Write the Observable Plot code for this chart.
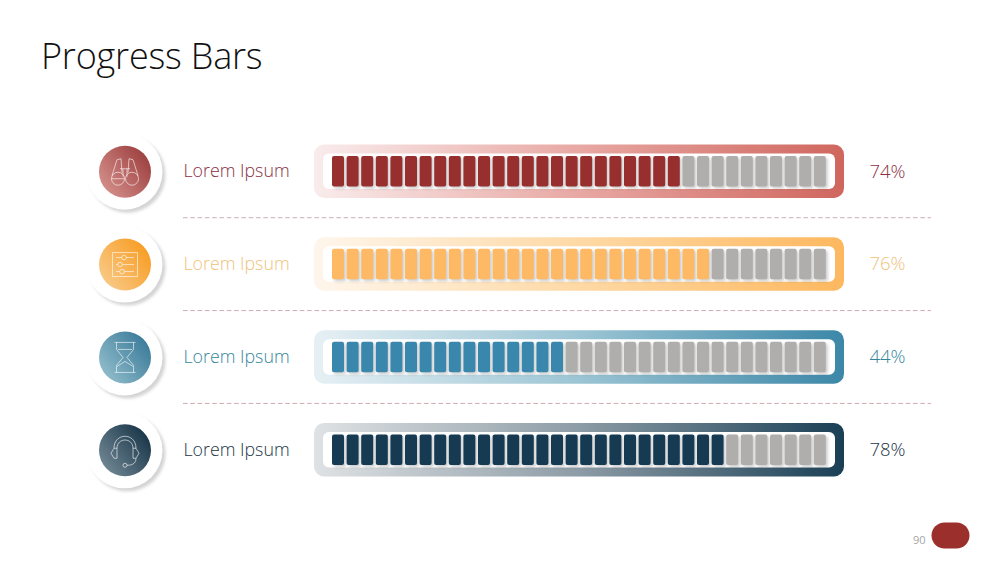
<!DOCTYPE html>
<html>
<head>
<meta charset="utf-8">
<script src="https://cdn.jsdelivr.net/npm/d3@7"></script>
<script src="https://cdn.jsdelivr.net/npm/@observablehq/plot@0.6"></script>
<style>
html,body{margin:0;padding:0;background:#fff;width:1000px;height:563px;overflow:hidden;position:relative}
h1{position:absolute;left:41px;top:31px;margin:0;font:300 36px "Open Sans",sans-serif;color:#111;letter-spacing:-.2px}
#c{position:absolute;left:0;top:0}
svg{display:block}
</style>
</head>
<body>
<h1>Progress Bars</h1>
<div id="c"></div>
<script>
const rows = ["a", "b", "c", "d"];
const labels = ["Lorem Ipsum", "Lorem Ipsum", "Lorem Ipsum", "Lorem Ipsum"];
const percents = [74, 76, 44, 78];
const filledCells = [24, 26, 16, 27];
const totalCells = 34;
const pageNumber = "90";

const barColors = ["#962f2e", "#fdb964", "#3a87ad", "#153a52"];
const textColors = ["#8a2f42", "#efc27c", "#35869c", "#1b3546"];
const frameStops = [["#f9ecec", "#e8a8a3", "#cf665e"], ["#fef6ec", "#fed9a5", "#fdb85f"], ["#e6f0f4", "#9cc5d4", "#3c87a8"], ["#dfe2e4", "#8d9ca6", "#1a3f55"]];
const discStops = [["#dc9a95", "#9c3f3f"], ["#f8d096", "#f89c22"], ["#9cc6d3", "#3a7a98"], ["#7d939f", "#173447"]];
const emptyColor = "#b0aeac";

const defs = d3.create("svg:defs");
rows.forEach((r, k) => {
  const f = defs.append("linearGradient").attr("id", "frame" + k);
  frameStops[k].forEach((c, j) => f.append("stop").attr("offset", j / 2).attr("stop-color", c));
  const g = defs.append("linearGradient").attr("id", "disc" + k)
    .attr("x1", 0).attr("y1", 1).attr("x2", 1).attr("y2", 0.25);
  discStops[k].forEach((c, j) => g.append("stop").attr("offset", j).attr("stop-color", c));
});

const glyphs = [
  { draw(p) { // binoculars
    for (const s of [-1, 1]) {
      p.moveTo(s * 13.5, 7); p.arc(s * 7, 7, 6.5, 0, 2 * Math.PI);
      p.moveTo(s * 13, 4); p.lineTo(s * 8, -12); p.lineTo(s * 4, -13); p.lineTo(s * 3, 1);
    }
    p.moveTo(-5, -3); p.lineTo(5, -3); p.moveTo(-2, -3); p.lineTo(-2, 5); p.moveTo(2, -3); p.lineTo(2, 5);
  }},
  { draw(p) { // sliders
    p.rect(-12.5, -12, 25, 24);
    for (const [y, x] of [[-7, -1], [0, -5], [7, -3]]) {
      p.moveTo(-9, y); p.lineTo(x - 2.3, y);
      p.moveTo(x + 2.3, y); p.arc(x, y, 2.3, 0, 2 * Math.PI);
      p.moveTo(x + 2.3, y); p.lineTo(9, y);
    }
  }},
  { draw(p) { // hourglass
    p.moveTo(-10.5, -15); p.lineTo(10.5, -15); p.moveTo(-10.5, 15); p.lineTo(10.5, 15);
    p.moveTo(-8.5, -15); p.lineTo(-8.5, -8); p.lineTo(-2, 0); p.lineTo(-8.5, 8); p.lineTo(-8.5, 15);
    p.moveTo(8.5, -15); p.lineTo(8.5, -8); p.lineTo(2, 0); p.lineTo(8.5, 8); p.lineTo(8.5, 15);
    p.moveTo(-7, -8); p.lineTo(7, -8); p.moveTo(-8, 9); p.lineTo(0, 4); p.lineTo(8, 9);
  }},
  { draw(p) { // headset
    p.moveTo(-11, -2); p.bezierCurveTo(-11, -18, 11, -18, 11, -2);
    p.moveTo(-8, -2); p.bezierCurveTo(-8, -13, 8, -13, 8, -2);
    for (const s of [-1, 1]) {
      p.moveTo(s * 8, -2); p.lineTo(s * 11, -2); p.lineTo(s * 14, 3); p.lineTo(s * 11, 8); p.lineTo(s * 8, 8); p.lineTo(s * 8, -2);
    }
    p.moveTo(11, 8); p.bezierCurveTo(11, 14, 6, 15, 2, 15);
    p.moveTo(2, 15); p.arc(0, 15, 2, 0, 2 * Math.PI);
  }}
];

const cells = rows.flatMap((r, k) => d3.range(totalCells).map(i => ({
  row: r, start: i, end: i + 1, fill: i < filledCells[k] ? barColors[k] : emptyColor
})));
const table = rows.map((r, k) => ({ row: r, label: labels[k], pct: percents[k] + "%", end: totalCells, start: 0 }));
const one = k => [table[k]];
const font = '"Open Sans", sans-serif';

const chart = Plot.plot({
  width: 1000, height: 563, margin: 0,
  style: { background: "transparent", fontFamily: font },
  x: { domain: [0, totalCells], range: [332, 828.4], axis: null },
  y: { type: "band", domain: rows, range: [156, 465], paddingInner: 0.672, paddingOuter: 0, round: false, axis: null },
  marks: [
    () => defs.node(),
    Plot.ruleY(rows.slice(0, 3), { y: d => d, dy: 46, insetLeft: 183, insetRight: 69, stroke: "#cfabb2", strokeWidth: 1, strokeDasharray: "4.6 2.7" }),
    ...rows.map((r, k) => Plot.barX(one(k), { x1: "start", x2: "end", y: "row", insetLeft: -18, insetRight: -15.6, insetTop: -11.5, insetBottom: -11.5, rx: 10, fill: `url(#frame${k})` })),
    Plot.barX(table, { x1: "start", x2: "end", y: "row", insetLeft: -9, insetRight: -6.6, insetTop: -2.5, insetBottom: -2.5, rx: 6, fill: "white" }),
    Plot.barX(cells, { x1: "start", x2: "end", y: "row", insetRight: 2.6, rx: 2, fill: "fill", imageFilter: "drop-shadow(2px 2px 1.5px rgba(90,90,90,.3))" }),
    Plot.dot(table, { y: "row", frameAnchor: "left", dx: 124, r: 38, fill: "white", imageFilter: "drop-shadow(3px 3px 1.5px rgba(0,0,0,.17))" }),
    ...rows.map((r, k) => Plot.dot(one(k), { y: "row", frameAnchor: "left", dx: 124.5, r: 26, fill: `url(#disc${k})` })),
    ...rows.map((r, k) => Plot.dot(one(k), { y: "row", frameAnchor: "left", dx: 124.5, r: 10, symbol: glyphs[k], fill: "none", stroke: "white", strokeWidth: 0.8, strokeOpacity: 0.75 })),
    ...rows.map((r, k) => Plot.text(one(k), { y: "row", text: "label", frameAnchor: "left", dx: 183, textAnchor: "start", fontSize: 17.8, fontWeight: 300, fill: textColors[k] })),
    ...rows.map((r, k) => Plot.text(one(k), { y: "row", text: "pct", frameAnchor: "left", dx: 869, textAnchor: "start", fontSize: 18.5, fontWeight: 300, fill: textColors[k] })),
    Plot.frame({ fill: "#9b2f2c", stroke: null, insetLeft: 931, insetRight: 31, insetTop: 522, insetBottom: 15, rx: 13 }),
    Plot.text([pageNumber], { frameAnchor: "bottom-right", dx: -75, dy: -20, fontSize: 11, fill: "#a5a5a5" })
  ]
});
document.getElementById("c").append(chart);
</script>
</body>
</html>
